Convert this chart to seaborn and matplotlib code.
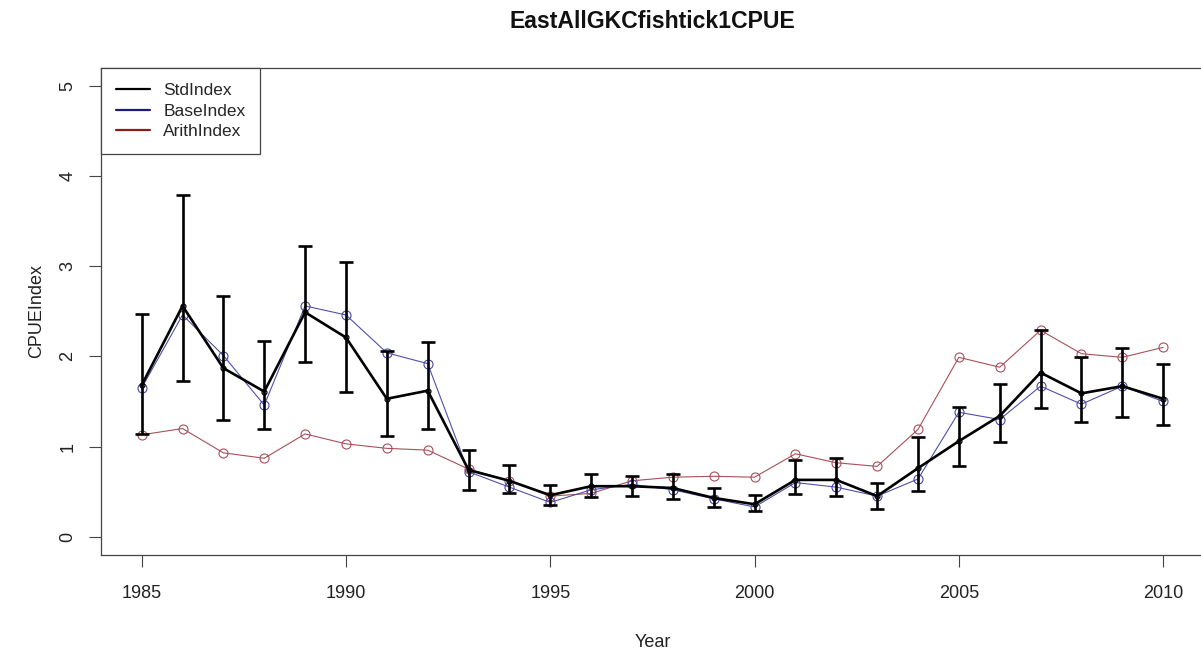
import numpy as np
import pandas as pd
import seaborn as sns
import matplotlib
matplotlib.use("Agg")
import matplotlib.pyplot as plt
from matplotlib.lines import Line2D

# CPUE index series by year
years = list(range(1985, 2011))
std_index = [1.68, 2.56, 1.87, 1.61, 2.49, 2.21, 1.53, 1.62, 0.74, 0.62, 0.46, 0.56, 0.56,
             0.54, 0.43, 0.36, 0.63, 0.63, 0.45, 0.76, 1.06, 1.34, 1.82, 1.59, 1.67, 1.53]
std_lower = [1.14, 1.73, 1.30, 1.19, 1.94, 1.61, 1.12, 1.20, 0.52, 0.48, 0.35, 0.44, 0.45,
             0.42, 0.33, 0.28, 0.47, 0.45, 0.31, 0.51, 0.78, 1.05, 1.43, 1.27, 1.33, 1.24]
std_upper = [2.47, 3.79, 2.67, 2.17, 3.22, 3.05, 2.06, 2.16, 0.96, 0.80, 0.57, 0.70, 0.67,
             0.70, 0.54, 0.46, 0.85, 0.87, 0.60, 1.11, 1.44, 1.69, 2.29, 1.99, 2.09, 1.92]
base_index = [1.65, 2.46, 2.01, 1.46, 2.56, 2.46, 2.04, 1.92, 0.72, 0.55, 0.38, 0.52, 0.58,
              0.52, 0.42, 0.33, 0.60, 0.55, 0.45, 0.64, 1.38, 1.30, 1.67, 1.47, 1.67, 1.50]
arith_index = [1.13, 1.20, 0.93, 0.87, 1.14, 1.03, 0.98, 0.96, 0.75, 0.62, 0.45, 0.48, 0.62,
               0.66, 0.67, 0.66, 0.92, 0.82, 0.78, 1.19, 1.99, 1.88, 2.29, 2.03, 1.99, 2.10]

series_names = ["StdIndex", "BaseIndex", "ArithIndex"]
legend_colors = ["#000000", "#1c1c78", "#8a1c1c"]

df = pd.DataFrame({"Year": years, "StdIndex": std_index, "BaseIndex": base_index,
                   "ArithIndex": arith_index, "lower": std_lower, "upper": std_upper})

sns.set_style("ticks")
plt.rcParams["font.family"] = ["Liberation Sans", "DejaVu Sans"]

W, H = 1201, 652
fig = plt.figure(figsize=(W / 100, H / 100), dpi=100)
ax = fig.add_axes([100.8 / W, (H - 554.7) / H, (1204 - 100.8) / W, (554.7 - 68) / H])

# thin comparison series with open circles
sns.lineplot(data=df, x="Year", y="ArithIndex", ax=ax, color="#a8505c", lw=0.8,
             marker="o", markersize=6.5, markerfacecolor="none",
             markeredgecolor="#a8505c", markeredgewidth=0.8)
sns.lineplot(data=df, x="Year", y="BaseIndex", ax=ax, color="#5050a8", lw=0.8,
             marker="o", markersize=6.5, markerfacecolor="none",
             markeredgecolor="#4848a8", markeredgewidth=0.8)

# standardized index with confidence bars
ax.errorbar(df["Year"], df["StdIndex"],
            yerr=[df["StdIndex"] - df["lower"], df["upper"] - df["StdIndex"]],
            fmt="none", ecolor="black", elinewidth=1.9, capsize=4.7, capthick=1.9)
sns.lineplot(data=df, x="Year", y="StdIndex", ax=ax, color="black", lw=1.9,
             marker="o", markersize=3.5, markerfacecolor="none",
             markeredgecolor="black", markeredgewidth=0.9)

ax.set_xlim(1984, 2011)
ax.set_ylim(-0.2, 5.2)
ax.set_xticks([1985, 1990, 1995, 2000, 2005, 2010])
ax.set_yticks([0, 1, 2, 3, 4, 5])
ax.set_yticklabels(["0", "1", "2", "3", "4", "5"], rotation=90, va="center")
ax.tick_params(axis="both", length=8.5, width=0.8, color="#444444",
               labelsize=13, labelcolor="#222222")
ax.tick_params(axis="x", pad=13)
ax.tick_params(axis="y", pad=9)
for s in ax.spines.values():
    s.set_visible(True)
    s.set_color("#444444")
    s.set_linewidth(0.9)
ax.spines["right"].set_visible(False)

ax.set_xlabel("Year", fontsize=13, color="#222222", labelpad=23)
ax.set_ylabel("CPUEIndex", fontsize=13, color="#222222", labelpad=10)

fig.text(652 / W, 1 - 21 / H, "EastAllGKCfishtick1CPUE", ha="center", va="center",
         fontsize=16.6, fontweight="bold", color="#111111")

handles = [Line2D([0], [0], color=c, lw=1.6) for c in legend_colors]
leg = ax.legend(handles, series_names, loc="upper left", borderaxespad=0, fancybox=False,
                framealpha=1, edgecolor="#444444", fontsize=12.5, handlelength=2.0,
                handletextpad=0.75, borderpad=0.85, labelspacing=0.32)
leg.get_frame().set_linewidth(0.9)

fig.savefig("out.png", dpi=100)
